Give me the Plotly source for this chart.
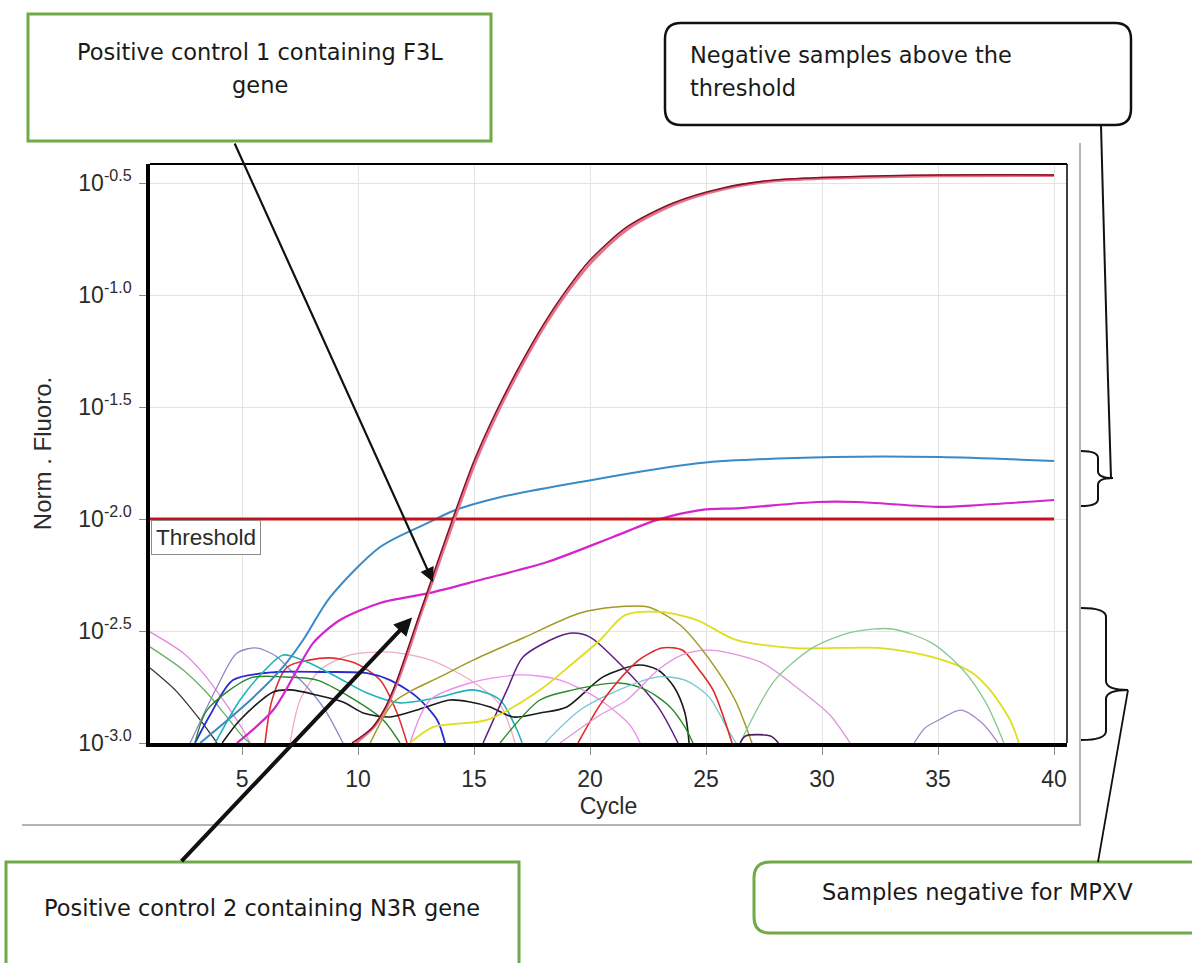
import plotly.graph_objects as go

# ---------------- data (cycle, log10 of normalized fluorescence) ----------------
x_range = [1.03, 40.56]
y_log_range = [-3.0, -0.415]
x_ticks = [5, 10, 15, 20, 25, 30, 35, 40]
y_tick_logs = [-3.0, -2.5, -2.0, -1.5, -1.0, -0.5]
y_tick_text = ["10<sup>-3.0</sup>", "10<sup>-2.5</sup>", "10<sup>-2.0</sup>",
               "10<sup>-1.5</sup>", "10<sup>-1.0</sup>", "10<sup>-0.5</sup>"]
threshold_log = -2.0
threshold_end = 40.0

# positive controls
pos2_cycle = [9.9, 10.7, 11.25, 11.72, 12.2, 12.68, 13.28, 14.17, 15.08, 16.08, 17.08, 18.08, 19.08,
              20.1, 21.7, 23.7, 25.8, 28.0, 30.9, 35.1, 40.0]
pos2_log = [-3.0, -2.925, -2.835, -2.72, -2.58, -2.43, -2.255, -1.995, -1.74, -1.51, -1.31, -1.13,
            -0.978, -0.848, -0.7, -0.592, -0.526, -0.49, -0.476, -0.467, -0.466]
pos1_cycle = [9.74, 10.6, 11.16, 11.64, 12.11, 12.6, 13.2, 14.09, 15.0, 16.0, 17.0, 18.0, 19.0,
              20.0, 21.59, 23.58, 25.73, 27.89, 30.78, 35.09, 40.0]
pos1_log = [-3.0, -2.933, -2.844, -2.73, -2.59, -2.44, -2.26, -1.996, -1.74, -1.51, -1.31, -1.13,
            -0.975, -0.844, -0.696, -0.589, -0.522, -0.487, -0.473, -0.464, -0.464]

# negative samples above threshold
blue_cycle = [3.19, 5.34, 6.77, 7.63, 8.79, 10.95, 13.1, 14.09, 15.99, 19.57, 24.74, 30.47, 35.09, 40.0]
blue_log = [-3.0, -2.81, -2.66, -2.54, -2.35, -2.125, -2.013, -1.964, -1.906, -1.835, -1.75, -1.723,
            -1.723, -1.741]
magenta_cycle = [4.78, 6.34, 7.37, 8.06, 9.22, 10.95, 13.1, 15.26, 18.15, 20.99, 22.89, 24.74, 26.47,
                 29.78, 31.51, 35.09, 36.81, 40.0]
magenta_log = [-3.0, -2.853, -2.674, -2.554, -2.451, -2.375, -2.33, -2.272, -2.192, -2.08, -2.004,
               -1.96, -1.951, -1.924, -1.924, -1.946, -1.9375, -1.915]

# negative samples below threshold
olive_cycle = [10.52, 11.51, 12.37, 13.53, 14.96, 17.11, 19.57, 21.08, 22.5, 23.88, 25.17, 26.25, 26.98]
olive_log = [-3.0, -2.82, -2.763, -2.705, -2.63, -2.531, -2.42, -2.393, -2.393, -2.473, -2.63, -2.808, -3.0]
yellow_cycle = [12.24, 13.23, 15.56, 17.84, 19.27, 20.43, 21.51, 23.02, 24.61, 26.29, 28.84, 32.54,
                34.74, 36.42, 37.24, 38.1, 38.49]
yellow_log = [-3.0, -2.929, -2.897, -2.763, -2.643, -2.54, -2.429, -2.415, -2.451, -2.54, -2.576,
              -2.576, -2.616, -2.683, -2.763, -2.897, -3.0]
lgreen_cycle = [26.47, 27.97, 29.66, 31.34, 33.02, 34.74, 36.08, 37.07, 37.84]
lgreen_log = [-3.0, -2.719, -2.571, -2.504, -2.491, -2.554, -2.674, -2.821, -3.0]
lilac_cycle = [33.97, 34.44, 35.04, 35.99, 36.9, 37.59]
lilac_log = [-3.0, -2.933, -2.897, -2.853, -2.911, -3.0]
pinkR_cycle = [18.71, 20.43, 21.59, 22.93, 23.97, 25.13, 27.33, 29.05, 30.34, 31.21]
pinkR_log = [-3.0, -2.875, -2.808, -2.674, -2.607, -2.585, -2.638, -2.763, -2.875, -3.0]
purple_cycle = [15.39, 16.42, 17.11, 18.58, 19.27, 20.0, 21.25, 22.93, 23.79]
purple_log = [-3.0, -2.763, -2.616, -2.527, -2.509, -2.527, -2.643, -2.839, -3.0]
redR_cycle = [19.48, 20.43, 21.25, 22.11, 23.1, 23.97, 24.61, 25.3, 26.12]
redR_log = [-3.0, -2.83, -2.719, -2.629, -2.576, -2.585, -2.661, -2.763, -3.0]
black_cycle = [4.14, 4.91, 6.34, 7.07, 8.23, 9.35, 10.22, 11.38, 12.54, 13.97, 14.83, 15.69, 16.68,
               17.84, 19.0, 20.56, 22.11, 22.93, 23.62, 24.09, 24.27]
black_log = [-3.0, -2.897, -2.772, -2.763, -2.786, -2.817, -2.866, -2.884, -2.853, -2.808, -2.817,
             -2.839, -2.884, -2.866, -2.839, -2.705, -2.652, -2.674, -2.75, -2.866, -3.0]
dgreen_cycle = [16.12, 17.84, 19.27, 21.25, 22.41, 23.45, 24.09, 24.44]
dgreen_log = [-3.0, -2.808, -2.763, -2.732, -2.763, -2.839, -2.929, -3.0]
lcyan_cycle = [18.06, 19.57, 21.25, 22.93, 24.09, 25.13, 25.95, 26.29]
lcyan_log = [-3.0, -2.853, -2.763, -2.705, -2.719, -2.795, -2.942, -3.0]
pinkL_cycle = [1.03, 2.46, 3.32, 4.18, 5.04, 5.34]
pinkL_log = [-2.504, -2.598, -2.688, -2.808, -2.942, -3.0]
greenL_cycle = [1.03, 2.46, 3.49, 4.35, 5.04, 5.34]
greenL_log = [-2.571, -2.674, -2.777, -2.884, -2.973, -3.0]
blackL_cycle = [1.03, 2.11, 3.19, 3.92]
blackL_log = [-2.665, -2.763, -2.897, -3.0]
slate_cycle = [2.76, 3.92, 4.78, 5.65, 6.51, 7.07, 7.8, 8.58, 9.35]
slate_log = [-3.0, -2.75, -2.598, -2.576, -2.616, -2.674, -2.75, -2.853, -3.0]
redL_cycle = [5.99, 6.29, 6.94, 7.93, 8.79, 9.87, 10.95, 11.68, 12.11]
redL_log = [-3.0, -2.808, -2.661, -2.629, -2.62, -2.643, -2.719, -2.866, -3.0]
dblue_cycle = [2.97, 3.62, 4.61, 6.51, 8.49, 10.39, 11.38, 12.54, 13.41, 13.75]
dblue_log = [-3.0, -2.875, -2.719, -2.683, -2.683, -2.688, -2.719, -2.795, -2.897, -3.0]
teal_cycle = [3.84, 4.91, 5.99, 6.77, 7.8, 9.09, 10.39, 11.81, 13.53, 14.96, 16.12, 16.85, 17.07]
teal_log = [-3.0, -2.808, -2.674, -2.607, -2.638, -2.705, -2.777, -2.821, -2.795, -2.763, -2.808,
            -2.942, -3.0]
lpink_cycle = [7.07, 7.5, 8.36, 9.66, 11.38, 13.1, 14.83, 16.12, 16.77]
lpink_log = [-3.0, -2.808, -2.674, -2.607, -2.594, -2.629, -2.719, -2.83, -3.0]
dgreenL_cycle = [2.97, 3.49, 5.34, 6.77, 8.23, 9.66, 11.08, 11.81]
dgreenL_log = [-3.0, -2.853, -2.71, -2.705, -2.719, -2.795, -2.897, -3.0]
mpink_cycle = [12.24, 13.1, 14.83, 16.98, 18.71, 20.43, 21.72, 22.16]
mpink_log = [-3.0, -2.808, -2.732, -2.696, -2.719, -2.808, -2.92, -3.0]
bump_cycle = [26.47, 26.7, 27.78, 28.12]
bump_log = [-3.0, -2.969, -2.969, -3.0]

# ---------------- layout geometry ----------------
FIG_W, FIG_H = 1192, 963
L, T, R, B = 150, 164, 1067, 743
W, H = R - L, B - T

def px(x):
    return (x - L) / W

def py(y):
    return (B - y) / H

def P(x, y):
    return f"{px(x):.5f},{py(y):.5f}"

def rounded(x0, y0, x1, y1, r):
    return ("M " + P(x0 + r, y0) + " L " + P(x1 - r, y0) + " Q " + P(x1, y0) + " " + P(x1, y0 + r)
            + " L " + P(x1, y1 - r) + " Q " + P(x1, y1) + " " + P(x1 - r, y1)
            + " L " + P(x0 + r, y1) + " Q " + P(x0, y1) + " " + P(x0, y1 - r)
            + " L " + P(x0, y0 + r) + " Q " + P(x0, y0) + " " + P(x0 + r, y0) + " Z")

def brace(xl, xs, xt, y0, ym, y1, r):
    return ("M " + P(xl, y0) + " Q " + P(xs, y0) + " " + P(xs, y0 + r)
            + " L " + P(xs, ym - r) + " Q " + P(xs, ym) + " " + P(xt, ym)
            + " Q " + P(xs, ym) + " " + P(xs, ym + r)
            + " L " + P(xs, y1 - r) + " Q " + P(xs, y1) + " " + P(xl, y1))

fig = go.Figure()

def add_curve(cx, cl, color, width):
    fig.add_trace(go.Scatter(x=cx, y=[10 ** v for v in cl], mode="lines",
                             line=dict(color=color, width=width, shape="spline", smoothing=0.8),
                             hoverinfo="skip", showlegend=False))

noise = [
    (lpink_cycle, lpink_log, "#f2a9c4", 1.3),
    (pinkL_cycle, pinkL_log, "#e08ae0", 1.3),
    (greenL_cycle, greenL_log, "#6aae6a", 1.3),
    (blackL_cycle, blackL_log, "#303030", 1.3),
    (slate_cycle, slate_log, "#8a8ac4", 1.3),
    (redL_cycle, redL_log, "#e03030", 1.6),
    (dblue_cycle, dblue_log, "#2a2ad0", 1.8),
    (teal_cycle, teal_log, "#1fb4bc", 1.6),
    (dgreenL_cycle, dgreenL_log, "#23862a", 1.4),
    (black_cycle, black_log, "#1a1a1a", 1.6),
    (mpink_cycle, mpink_log, "#f08cf0", 1.4),
    (purple_cycle, purple_log, "#5e1f80", 1.5),
    (dgreen_cycle, dgreen_log, "#2a8a2a", 1.4),
    (lcyan_cycle, lcyan_log, "#72c8d2", 1.3),
    (redR_cycle, redR_log, "#e02828", 1.6),
    (pinkR_cycle, pinkR_log, "#e094e0", 1.3),
    (olive_cycle, olive_log, "#a29a24", 1.5),
    (yellow_cycle, yellow_log, "#dede1c", 1.8),
    (lgreen_cycle, lgreen_log, "#86c890", 1.3),
    (lilac_cycle, lilac_log, "#a58cc8", 1.3),
    (bump_cycle, bump_log, "#50205e", 1.6),
]
for cx, cl, color, wdt in noise:
    add_curve(cx, cl, color, wdt)

add_curve(blue_cycle, blue_log, "#3a8ac6", 2.0)
add_curve(magenta_cycle, magenta_log, "#d424cc", 2.2)

# threshold line
fig.add_trace(go.Scatter(x=[x_range[0], threshold_end], y=[10 ** threshold_log] * 2, mode="lines",
                         line=dict(color="#c4121f", width=3), hoverinfo="skip", showlegend=False))

add_curve(pos2_cycle, pos2_log, "#e8708a", 3.0)
add_curve(pos1_cycle, pos1_log, "#7e1426", 1.5)

tick_font = dict(family="Liberation Sans Narrow, Arial Narrow, Liberation Sans, Arial", size=23,
                 color="#2b2b2b")

fig.update_layout(
    width=FIG_W, height=FIG_H,
    margin=dict(l=L, r=FIG_W - R, t=T, b=FIG_H - B, pad=0),
    paper_bgcolor="white", plot_bgcolor="white",
    showlegend=False,
    xaxis=dict(range=x_range, tickvals=x_ticks, ticks="outside", ticklen=8, tickwidth=1,
               tickcolor="#8a8a8a", showgrid=True, gridcolor="#e4e4e4", gridwidth=1,
               showline=True, linecolor="black", linewidth=4, zeroline=False,
               tickfont=tick_font, ticklabelstandoff=4,
               title=dict(text="Cycle", font=tick_font, standoff=8)),
    yaxis=dict(type="log", range=y_log_range, tickvals=[10 ** v for v in y_tick_logs],
               ticktext=y_tick_text, ticks="outside", ticklen=7, tickwidth=1, tickcolor="#8a8a8a",
               showgrid=True, gridcolor="#e4e4e4", gridwidth=1,
               showline=True, linecolor="black", linewidth=3.5, zeroline=False,
               tickfont=tick_font, ticklabelstandoff=3,
               title=dict(text="Norm . Fluoro.",
                          font=dict(family="Liberation Sans, Arial", size=24, color="#2b2b2b"),
                          standoff=21)),
)

shapes = []
# plot frame top & right
shapes.append(dict(type="line", xref="paper", yref="paper", x0=0, x1=1, y0=1, y1=1,
                   line=dict(color="black", width=2)))
shapes.append(dict(type="line", xref="paper", yref="paper", x0=1, x1=1, y0=0, y1=1,
                   line=dict(color="black", width=1.5)))
# outer grey frame (right and bottom)
shapes.append(dict(type="line", xref="paper", yref="paper", x0=px(1080), x1=px(1080),
                   y0=py(143), y1=py(826), line=dict(color="#b4b4b4", width=2)))
shapes.append(dict(type="line", xref="paper", yref="paper", x0=px(22), x1=px(1081),
                   y0=py(825), y1=py(825), line=dict(color="#b4b4b4", width=2)))
# callout boxes
green = "#72aa4a"
shapes.append(dict(type="rect", xref="paper", yref="paper", x0=px(28), x1=px(491), y0=py(14),
                   y1=py(141), line=dict(color=green, width=3), fillcolor="white"))
shapes.append(dict(type="rect", xref="paper", yref="paper", x0=px(6), x1=px(519), y0=py(862),
                   y1=py(985), line=dict(color=green, width=3), fillcolor="white"))
shapes.append(dict(type="path", xref="paper", yref="paper", path=rounded(665, 23, 1131, 125, 16),
                   line=dict(color="#111111", width=2.5), fillcolor="white"))
shapes.append(dict(type="path", xref="paper", yref="paper", path=rounded(754, 862, 1215, 933, 16),
                   line=dict(color=green, width=3), fillcolor="white"))
# braces and connectors
shapes.append(dict(type="path", xref="paper", yref="paper",
                   path=brace(1081, 1098, 1113, 451, 478, 506, 7),
                   line=dict(color="#111111", width=2)))
shapes.append(dict(type="path", xref="paper", yref="paper",
                   path=brace(1081, 1106, 1128, 608, 690, 740, 9),
                   line=dict(color="#111111", width=2)))
shapes.append(dict(type="path", xref="paper", yref="paper",
                   path="M " + P(1101, 125) + " L " + P(1103, 200) + " L " + P(1108, 380)
                        + " L " + P(1111, 478),
                   line=dict(color="#111111", width=2)))
shapes.append(dict(type="line", xref="paper", yref="paper", x0=px(1128), y0=py(690),
                   x1=px(1098), y1=py(862), line=dict(color="#111111", width=1.8)))
fig.update_layout(shapes=shapes)

note_font = dict(family="DejaVu Sans, Verdana", size=22.5, color="#1a1a1a")
annotations = [
    dict(text="Positive control 1 containing F3L", x=px(260), y=py(52), xanchor="center",
         yanchor="middle"),
    dict(text="gene", x=px(260), y=py(85), xanchor="center", yanchor="middle"),
    dict(text="Negative samples above the", x=px(688), y=py(55), xanchor="left", yanchor="middle"),
    dict(text="threshold", x=px(688), y=py(88), xanchor="left", yanchor="middle"),
    dict(text="Positive control 2 containing N3R gene", x=px(262), y=py(908), xanchor="center",
         yanchor="middle"),
    dict(text="Samples negative for MPXV", x=px(977), y=py(892), xanchor="center",
         yanchor="middle"),
]
for a in annotations:
    a.update(xref="paper", yref="paper", showarrow=False, font=note_font)

# threshold label
annotations.append(dict(text="Threshold", xref="paper", yref="y", x=0, y=threshold_log,
                        xanchor="left", yanchor="top", xshift=1, yshift=-1, showarrow=False,
                        bgcolor="white", bordercolor="#8c8c8c", borderwidth=1, borderpad=4,
                        font=dict(family="Liberation Sans Narrow, Arial Narrow, Liberation Sans",
                                  size=22.5, color="#2b2b2b")))
# arrows pointing to the positive-control curves
annotations.append(dict(text="", xref="x", yref="y", x=13.23, y=-2.281, ax=-199, ay=-440,
                        showarrow=True, arrowhead=2, arrowsize=1.3, arrowwidth=2.2,
                        arrowcolor="#111111"))
annotations.append(dict(text="", xref="x", yref="y", x=12.33, y=-2.44, ax=-232, ay=245,
                        showarrow=True, arrowhead=2, arrowsize=0.9, arrowwidth=4,
                        arrowcolor="#111111"))
fig.update_layout(annotations=annotations)

fig.write_html("out.html", config={"displayModeBar": False},
               post_script="document.body.style.margin='0';document.body.style.padding='0';")
